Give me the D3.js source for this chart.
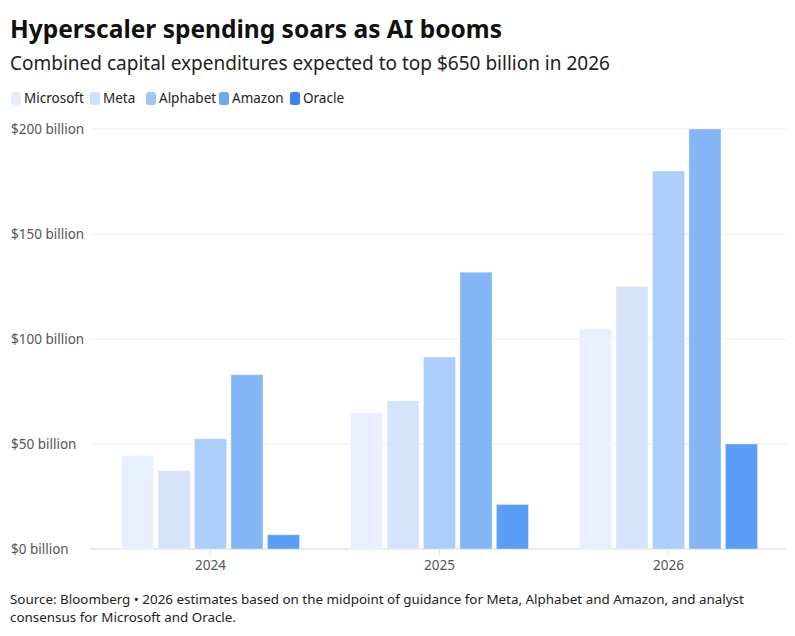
<!DOCTYPE html>
<html>
<head>
<meta charset="utf-8">
<script src="https://cdn.jsdelivr.net/npm/d3@7"></script>
<style>
  body { margin: 0; background: #fff; }
  svg { display: block; font-family: "Noto Sans", sans-serif; }
</style>
</head>
<body>
<svg id="chart" width="795" height="636"></svg>
<script>
// datos del gráfico (miles de millones de dólares)
const years = ["2024", "2025", "2026"];
const companies = ["Microsoft", "Meta", "Alphabet", "Amazon", "Oracle"];
const microsoft = [44.5, 64.8, 105];
const meta = [37.3, 70.5, 125];
const alphabet = [52.5, 91.4, 180];
const amazon = [83, 131.8, 200];
const oracle = [6.8, 21.2, 50];
const yTicks = [0, 50, 100, 150, 200];

const barColors = ["#e8f0fd", "#d5e4fb", "#adcdfa", "#84b5f7", "#5a9ef8"];
const legendColors = ["#e3edfd", "#cfe1fb", "#a2c6fa", "#6ca7f7", "#3b82f6"];

const seriesValues = [microsoft, meta, alphabet, amazon, oracle];
const rows = years.map((y, i) => ({
    year: y,
    values: companies.map((c, j) => ({ company: c, value: seriesValues[j][i], idx: j }))
}));

const svg = d3.select("#chart");
const plotLeft = 96, plotRight = 783, plotTop = 129, plotBottom = 549;

// títulos
svg.append("text")
    .attr("x", 10).attr("y", 38)
    .attr("font-size", 24.5).attr("font-weight", 700).attr("fill", "#111")
    .text("Hyperscaler spending soars as AI booms");

svg.append("text")
    .attr("x", 10).attr("y", 70)
    .attr("font-size", 19).attr("fill", "#222")
    .text("Combined capital expenditures expected to top $650 billion in 2026");

// leyenda
const legendX = [11, 90, 146, 219, 290];
const legend = svg.append("g");
companies.forEach((c, i) => {
    const g = legend.append("g").attr("transform", `translate(${legendX[i]},92)`);
    g.append("rect")
        .attr("width", 10).attr("height", 13).attr("rx", 2.5)
        .attr("fill", legendColors[i]);
    g.append("text")
        .attr("x", 13).attr("y", 11)
        .attr("font-size", 13.5).attr("fill", "#222")
        .text(c);
});

// escalas
const y = d3.scaleLinear().domain([0, 200]).range([plotBottom, plotTop]);
const x0 = d3.scaleBand().domain(years).range([plotLeft, plotRight])
    .paddingInner(0.2227).paddingOuter(0.11135);
const x1 = d3.scaleBand().domain(companies).range([0, x0.bandwidth()])
    .paddingInner(0.12);

// líneas de cuadrícula
svg.append("g").selectAll("line")
    .data(yTicks)
    .enter()
    .append("line")
    .attr("x1", 90).attr("x2", 786)
    .attr("y1", d => y(d)).attr("y2", d => y(d))
    .attr("stroke", d => d === 0 ? "#e4e4e4" : "#ececec")
    .attr("stroke-width", d => d === 0 ? 1.5 : 1);

// etiquetas del eje y
svg.append("g").selectAll("text")
    .data(yTicks)
    .enter()
    .append("text")
    .attr("x", 11).attr("y", d => y(d) + 5)
    .attr("font-size", 13.5).attr("fill", "#555")
    .text(d => `$${d} billion`);

// barras
const groups = svg.append("g").selectAll("g")
    .data(rows)
    .enter()
    .append("g")
    .attr("transform", d => `translate(${x0(d.year)},0)`);

groups.selectAll("rect")
    .data(d => d.values)
    .enter()
    .append("rect")
    .attr("x", d => x1(d.company))
    .attr("y", d => y(d.value))
    .attr("width", x1.bandwidth())
    .attr("height", d => plotBottom - y(d.value))
    .attr("fill", d => barColors[d.idx])
    .attr("stroke", "#fff")
    .attr("stroke-opacity", 0.35)
    .attr("stroke-width", 1);

// eje x
const xAxis = svg.append("g");
xAxis.selectAll("line")
    .data(years)
    .enter()
    .append("line")
    .attr("x1", d => x0(d) + x0.bandwidth() / 2)
    .attr("x2", d => x0(d) + x0.bandwidth() / 2)
    .attr("y1", plotBottom + 1).attr("y2", plotBottom + 6)
    .attr("stroke", "#e0e0e0");
xAxis.selectAll("text")
    .data(years)
    .enter()
    .append("text")
    .attr("x", d => x0(d) + x0.bandwidth() / 2)
    .attr("y", 570)
    .attr("text-anchor", "middle")
    .attr("font-size", 13.5).attr("fill", "#555")
    .text(d => d);

// fuente
const notes = [
    "Source: Bloomberg \u2022 2026 estimates based on the midpoint of guidance for Meta, Alphabet and Amazon, and analyst",
    "consensus for Microsoft and Oracle."
];
svg.append("g").selectAll("text")
    .data(notes)
    .enter()
    .append("text")
    .attr("x", 10).attr("y", (d, i) => 604 + i * 18)
    .attr("font-size", 13.4).attr("fill", "#222")
    .text(d => d);
</script>
</body>
</html>
